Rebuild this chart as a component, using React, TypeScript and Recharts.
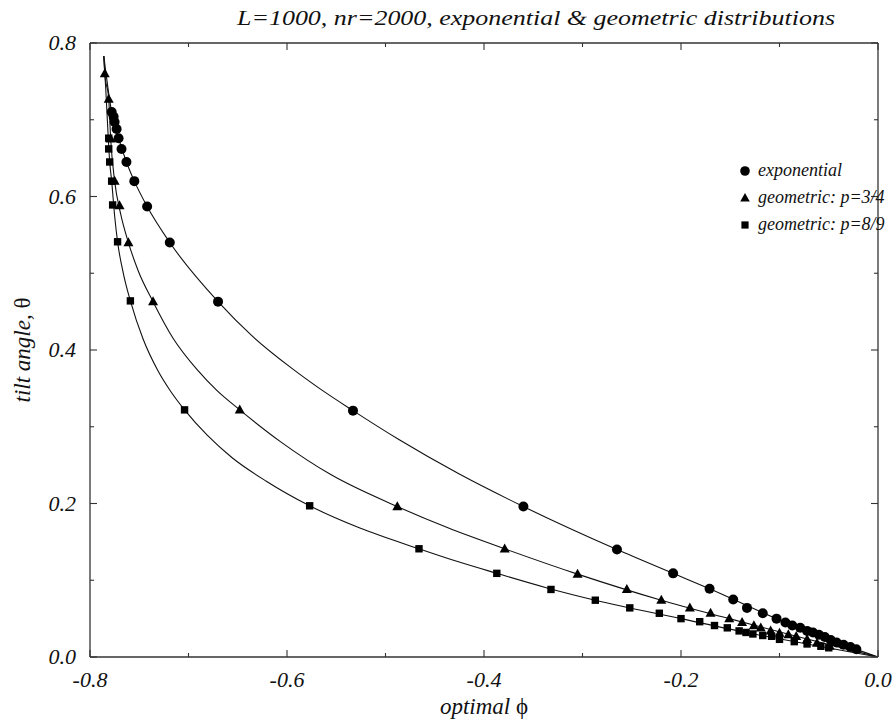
import React from 'react';
import { ComposedChart, Line, Scatter, XAxis, YAxis, Legend, Label } from 'recharts';

// ---- axis ticks ----
const xTicks = [-0.8, -0.7, -0.6, -0.5, -0.4, -0.3, -0.2, -0.1, 0];
const yTicks = [0, 0.1, 0.2, 0.3, 0.4, 0.5, 0.6, 0.7, 0.8];

// ---- series labels ----
const seriesNames = ['exponential', 'geometric: p=3/4', 'geometric: p=8/9'];

// ---- exponential data points ----
const expPhi = [-0.778, -0.776, -0.775, -0.773, -0.771, -0.768, -0.763, -0.755, -0.742, -0.719, -0.670, -0.533, -0.360, -0.265, -0.208, -0.171, -0.147, -0.133, -0.117, -0.103, -0.094, -0.087, -0.079, -0.072, -0.066, -0.060, -0.054, -0.048, -0.042, -0.035, -0.028, -0.022];
const expTheta = [0.710, 0.704, 0.697, 0.688, 0.676, 0.662, 0.645, 0.620, 0.587, 0.540, 0.463, 0.321, 0.196, 0.140, 0.109, 0.089, 0.075, 0.064, 0.057, 0.050, 0.045, 0.041, 0.038, 0.034, 0.032, 0.029, 0.026, 0.022, 0.019, 0.016, 0.013, 0.010];

// ---- geometric p=3/4 data points ----
const g34Phi = [-0.785, -0.781, -0.779, -0.775, -0.770, -0.761, -0.736, -0.648, -0.488, -0.379, -0.305, -0.255, -0.220, -0.191, -0.170, -0.151, -0.138, -0.126, -0.119, -0.109, -0.100, -0.091, -0.083, -0.072, -0.062, -0.049];
const g34Theta = [0.760, 0.727, 0.675, 0.620, 0.588, 0.540, 0.463, 0.322, 0.196, 0.141, 0.108, 0.088, 0.074, 0.064, 0.057, 0.050, 0.045, 0.041, 0.038, 0.034, 0.031, 0.029, 0.027, 0.023, 0.018, 0.014];

// ---- geometric p=8/9 data points ----
const g89Phi = [-0.781, -0.781, -0.780, -0.778, -0.777, -0.772, -0.759, -0.704, -0.577, -0.466, -0.387, -0.332, -0.287, -0.252, -0.222, -0.200, -0.181, -0.166, -0.153, -0.141, -0.134, -0.127, -0.117, -0.108, -0.100, -0.085, -0.072, -0.058, -0.050];
const g89Theta = [0.676, 0.662, 0.645, 0.620, 0.589, 0.541, 0.464, 0.322, 0.197, 0.141, 0.109, 0.088, 0.074, 0.064, 0.057, 0.050, 0.046, 0.041, 0.038, 0.034, 0.032, 0.030, 0.028, 0.027, 0.023, 0.020, 0.017, 0.014, 0.012];

// ---- theory curves (positions) ----
const expCurvePhi = [-0.786, -0.778, -0.771, -0.763, -0.755, -0.742, -0.719, -0.670, -0.636, -0.596, -0.566, -0.533, -0.486, -0.426, -0.360, -0.265, -0.208, -0.171, -0.103, -0.048, 0];
const expCurveTheta = [0.783, 0.710, 0.676, 0.645, 0.620, 0.587, 0.540, 0.463, 0.419, 0.377, 0.349, 0.321, 0.283, 0.239, 0.196, 0.140, 0.109, 0.089, 0.050, 0.022, 0];
const g34CurvePhi = [-0.786, -0.785, -0.781, -0.779, -0.775, -0.769, -0.761, -0.751, -0.736, -0.716, -0.691, -0.671, -0.648, -0.606, -0.556, -0.488, -0.436, -0.379, -0.305, -0.220, -0.151, -0.083, 0];
const g34CurveTheta = [0.783, 0.760, 0.727, 0.675, 0.620, 0.578, 0.540, 0.503, 0.463, 0.416, 0.374, 0.347, 0.322, 0.280, 0.238, 0.196, 0.168, 0.141, 0.108, 0.074, 0.050, 0.027, 0];
const g89CurvePhi = [-0.786, -0.784, -0.782, -0.780, -0.778, -0.775, -0.772, -0.766, -0.759, -0.746, -0.731, -0.718, -0.704, -0.681, -0.656, -0.621, -0.577, -0.526, -0.466, -0.426, -0.387, -0.336, -0.287, -0.200, -0.134, -0.072, 0];
const g89CurveTheta = [0.783, 0.740, 0.690, 0.645, 0.620, 0.575, 0.541, 0.499, 0.464, 0.414, 0.373, 0.346, 0.322, 0.289, 0.260, 0.229, 0.197, 0.168, 0.141, 0.124, 0.109, 0.090, 0.074, 0.050, 0.032, 0.017, 0];

const zip = (xs: number[], ys: number[]) => xs.map((x, i) => ({ x, y: ys[i] }));

const expPoints = zip(expPhi, expTheta);
const g34Points = zip(g34Phi, g34Theta);
const g89Points = zip(g89Phi, g89Theta);
const expCurve = zip(expCurvePhi, expCurveTheta);
const g34Curve = zip(g34CurvePhi, g34CurveTheta);
const g89Curve = zip(g89CurvePhi, g89CurveTheta);

const FONT = "'Liberation Serif', 'Times New Roman', Times, 'DejaVu Serif', serif";
const INK = '#111';
const AXIS = '#333';

const isMajor = (v: number) => Math.abs(Math.round(v * 10)) % 2 === 0;
const fmt = (v: number) => (Math.abs(v) < 1e-9 ? '0.0' : v.toFixed(1));

const BottomTick = (p: any) => {
  const v = p.payload.value;
  const major = isMajor(v);
  return (
    <g>
      <line x1={p.x} x2={p.x} y1={p.y} y2={p.y - (major ? 7 : 4)} stroke={AXIS} strokeWidth={1.1} />
      {major && (
        <text x={p.x} y={p.y + 30} textAnchor="middle" fontFamily={FONT} fontStyle="italic" fontSize={22} fill={INK}>
          {fmt(v)}
        </text>
      )}
    </g>
  );
};

const TopTick = (p: any) => {
  const major = isMajor(p.payload.value);
  return <line x1={p.x} x2={p.x} y1={p.y} y2={p.y + (major ? 7 : 4)} stroke={AXIS} strokeWidth={1.1} />;
};

const LeftTick = (p: any) => {
  const v = p.payload.value;
  const major = isMajor(v);
  return (
    <g>
      <line x1={p.x} x2={p.x + (major ? 7 : 4)} y1={p.y} y2={p.y} stroke={AXIS} strokeWidth={1.1} />
      {major && (
        <text x={p.x - 14} y={p.y + 7} textAnchor="end" fontFamily={FONT} fontStyle="italic" fontSize={22} fill={INK}>
          {fmt(v)}
        </text>
      )}
    </g>
  );
};

const RightTick = (p: any) => {
  const major = isMajor(p.payload.value);
  return <line x1={p.x} x2={p.x - (major ? 7 : 4)} y1={p.y} y2={p.y} stroke={AXIS} strokeWidth={1.1} />;
};

const circleShape = (p: any) => <circle cx={p.cx} cy={p.cy} r={5} fill="#000" />;
const triangleShape = (p: any) => (
  <polygon points={`${p.cx},${p.cy - 5.4} ${p.cx - 5},${p.cy + 3.6} ${p.cx + 5},${p.cy + 3.6}`} fill="#000" />
);
const squareShape = (p: any) => <rect x={p.cx - 3.7} y={p.cy - 3.7} width={7.4} height={7.4} fill="#000" />;

const TitleLabel = (props: any) => {
  const vb = props.viewBox || { x: 90, y: 42, width: 788, height: 1 };
  return (
    <text
      x={vb.x + vb.width / 2 + 52}
      y={vb.y - 17}
      textAnchor="middle"
      fontFamily={FONT}
      fontStyle="italic"
      fontSize={22}
      fill={INK}
      textLength={598}
      lengthAdjust="spacingAndGlyphs"
    >
      L=1000, nr=2000, exponential &amp; geometric distributions
    </text>
  );
};

const XTitle = (props: any) => {
  const vb = props.viewBox || { x: 90, y: 657, width: 788, height: 50 };
  return (
    <text x={vb.x + vb.width / 2} y={vb.y + 57} textAnchor="middle" fontFamily={FONT} fontSize={23} fill={INK}>
      <tspan fontStyle="italic">optimal </tspan>
      <tspan fontStyle="normal">ϕ</tspan>
    </text>
  );
};

const YTitle = (props: any) => {
  const vb = props.viewBox || { x: 30, y: 43, width: 60, height: 614 };
  const cx = vb.x;
  const cy = vb.y + vb.height / 2;
  return (
    <text x={cx} y={cy} transform={`rotate(-90 ${cx} ${cy})`} textAnchor="middle" fontFamily={FONT} fontSize={23} fill={INK}>
      <tspan fontStyle="italic">tilt angle, </tspan>
      <tspan fontStyle="normal">θ</tspan>
    </text>
  );
};

const legendMarkers = [
  <circle cx={7} cy={7} r={4.8} fill="#000" />,
  <polygon points="7,2 2.2,10.6 11.8,10.6" fill="#000" />,
  <rect x={3.4} y={3.4} width={7.2} height={7.2} fill="#000" />,
];

const LegendContent = () => (
  <div style={{ fontFamily: FONT, fontStyle: 'italic', fontSize: 18, color: INK }}>
    {seriesNames.map((name, i) => (
      <div key={name} style={{ height: 27, display: 'flex', alignItems: 'center', whiteSpace: 'nowrap' }}>
        <svg width={14} height={14} style={{ flex: 'none' }}>{legendMarkers[i]}</svg>
        <span style={{ marginLeft: 6 }}>{name}</span>
      </div>
    ))}
  </div>
);

export default function App() {
  return (
    <div style={{ width: 893, height: 723, background: '#fff' }}>
      <style>{'body{margin:0;background:#fff}'}</style>
      <ComposedChart width={893} height={723} margin={{ top: 42, right: 14, bottom: 16, left: 30 }}>
        <XAxis
          xAxisId="b"
          dataKey="x"
          type="number"
          domain={[-0.8, 0]}
          ticks={xTicks}
          interval={0}
          tickSize={0}
          tickMargin={0}
          tick={BottomTick}
          height={50}
          axisLine={{ stroke: AXIS, strokeWidth: 1.3 }}
          allowDataOverflow
        >
          <Label content={XTitle} />
        </XAxis>
        <XAxis
          xAxisId="t"
          orientation="top"
          dataKey="x"
          type="number"
          domain={[-0.8, 0]}
          ticks={xTicks}
          interval={0}
          tickSize={0}
          tickMargin={0}
          tick={TopTick}
          height={1}
          axisLine={{ stroke: AXIS, strokeWidth: 1.3 }}
          allowDataOverflow
        >
          <Label content={TitleLabel} />
        </XAxis>
        <YAxis
          yAxisId="l"
          dataKey="y"
          type="number"
          domain={[0, 0.8]}
          ticks={yTicks}
          interval={0}
          tickSize={0}
          tickMargin={0}
          tick={LeftTick}
          width={60}
          axisLine={{ stroke: AXIS, strokeWidth: 1.3 }}
          allowDataOverflow
        >
          <Label content={YTitle} />
        </YAxis>
        <YAxis
          yAxisId="r"
          orientation="right"
          dataKey="y"
          type="number"
          domain={[0, 0.8]}
          ticks={yTicks}
          interval={0}
          tickSize={0}
          tickMargin={0}
          tick={RightTick}
          width={1}
          axisLine={{ stroke: AXIS, strokeWidth: 1.3 }}
          allowDataOverflow
        />
        <Line xAxisId="b" yAxisId="l" data={expCurve} dataKey="y" type="monotone" stroke={INK} strokeWidth={1.1} dot={false} isAnimationActive={false} />
        <Line xAxisId="b" yAxisId="l" data={g34Curve} dataKey="y" type="monotone" stroke={INK} strokeWidth={1.1} dot={false} isAnimationActive={false} />
        <Line xAxisId="b" yAxisId="l" data={g89Curve} dataKey="y" type="monotone" stroke={INK} strokeWidth={1.1} dot={false} isAnimationActive={false} />
        <Scatter xAxisId="b" yAxisId="l" data={expPoints} dataKey="y" shape={circleShape} isAnimationActive={false} />
        <Scatter xAxisId="b" yAxisId="l" data={g34Points} dataKey="y" shape={triangleShape} isAnimationActive={false} />
        <Scatter xAxisId="b" yAxisId="l" data={g89Points} dataKey="y" shape={squareShape} isAnimationActive={false} />
        <Legend
          layout="vertical"
          align="center"
          verticalAlign="middle"
          content={LegendContent}
          wrapperStyle={{ position: 'absolute', left: 738, top: 157, width: 155 }}
        />
      </ComposedChart>
    </div>
  );
}
